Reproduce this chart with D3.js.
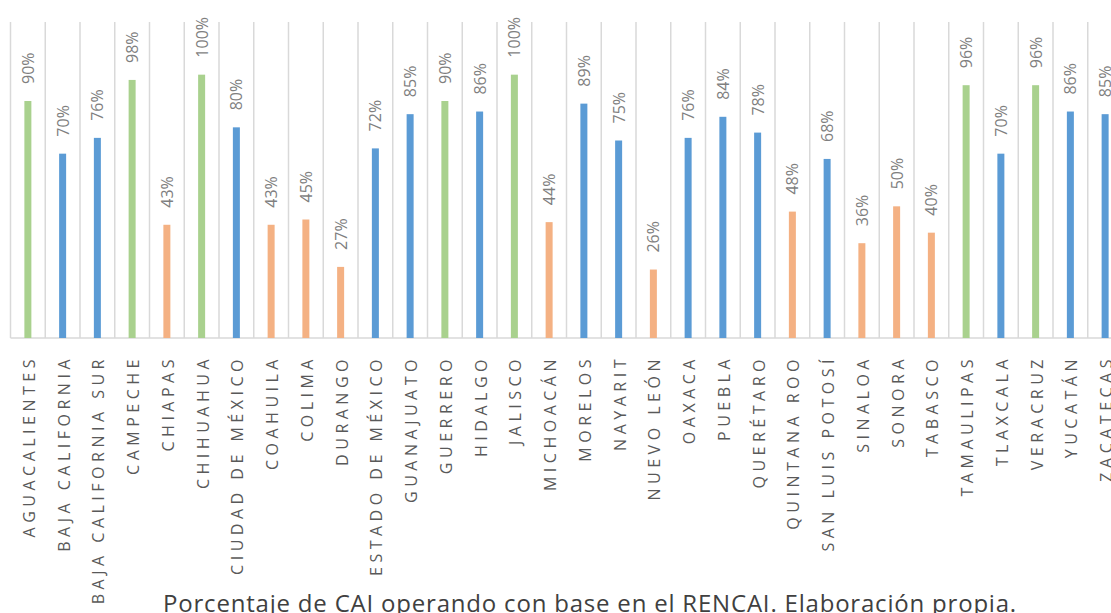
<!DOCTYPE html>
<html><head><meta charset="utf-8">
<script src="https://cdn.jsdelivr.net/npm/d3@7"></script>
<style>body{margin:0;background:#fff;overflow:hidden}</style>
</head><body>
<svg id="c" width="1111" height="613"></svg>
<script>
const categories = ["AGUACALIENTES","BAJA CALIFORNIA","BAJA CALIFORNIA SUR","CAMPECHE","CHIAPAS","CHIHUAHUA","CIUDAD DE MÉXICO","COAHUILA","COLIMA","DURANGO","ESTADO DE MÉXICO","GUANAJUATO","GUERRERO","HIDALGO","JALISCO","MICHOACÁN","MORELOS","NAYARIT","NUEVO LEÓN","OAXACA","PUEBLA","QUERÉTARO","QUINTANA ROO","SAN LUIS POTOSÍ","SINALOA","SONORA","TABASCO","TAMAULIPAS","TLAXCALA","VERACRUZ","YUCATÁN","ZACATECAS"];
const values = [0.90,0.70,0.76,0.98,0.43,1.00,0.80,0.43,0.45,0.27,0.72,0.85,0.90,0.86,1.00,0.44,0.89,0.75,0.26,0.76,0.84,0.78,0.48,0.68,0.36,0.50,0.40,0.96,0.70,0.96,0.86,0.85];
const levelThresholds = [0.6, 0.9];
const levelColors = ["#f4b183","#5b9bd5","#a9d18e"];
const caption = "Porcentaje de CAI operando con base en el RENCAI. Elaboración propia.";

const svg = d3.select("#c");
const mLeft = 10.5, step = 34.75, mTop = 22, base = 338;
const x = d3.scaleBand().domain(categories).range([mLeft, mLeft + step*categories.length]).padding(0);
const y = d3.scaleLinear().domain([0, 1.2]).range([base, mTop]);
const color = d3.scaleThreshold().domain(levelThresholds).range(levelColors);

const bounds = categories.map(c => x(c)).concat([x.range()[1]]);
svg.append("g").selectAll("line").data(bounds).join("line")
  .attr("x1", d=>d).attr("x2", d=>d).attr("y1", mTop).attr("y2", base)
  .attr("stroke", "#d9d9d9").attr("stroke-width", 1.5);

svg.append("line").attr("x1", mLeft).attr("x2", 1111).attr("y1", base).attr("y2", base)
  .attr("stroke", "#d9d9d9").attr("stroke-width", 1.5);

const bw = 7;
const data = categories.map((c,i)=>({c, v: values[i]}));
svg.append("g").selectAll("rect").data(data).join("rect")
  .attr("x", d => x(d.c) + x.bandwidth()/2 - bw/2)
  .attr("width", bw)
  .attr("y", d => y(d.v))
  .attr("height", d => base - y(d.v))
  .attr("fill", d => color(d.v));

svg.append("g").selectAll("text").data(data).join("text")
  .attr("transform", d => `translate(${x(d.c)+x.bandwidth()/2 + 6},${y(d.v) - 17}) rotate(-90)`)
  .attr("text-anchor", "start")
  .attr("font-family", "Open Sans, sans-serif")
  .attr("font-size", 16)
  .attr("fill", "#7f7f7f")
  .text(d => d3.format(".0%")(d.v));

svg.append("g").selectAll("text").data(categories).join("text")
  .attr("transform", d => `translate(${x(d)+x.bandwidth()/2 + 7},355) rotate(-90)`)
  .attr("text-anchor", "end")
  .attr("font-family", "Open Sans, sans-serif")
  .attr("font-size", 16)
  .attr("letter-spacing", "4.5px")
  .attr("fill", "#595959")
  .text(d => d);

svg.append("text").attr("x", 590).attr("y", 612).attr("text-anchor", "middle")
  .attr("font-family", "Open Sans, sans-serif").attr("font-size", 24)
  .attr("letter-spacing", "0.8px").attr("fill", "#404040")
  .text(caption);
</script>
</body></html>
